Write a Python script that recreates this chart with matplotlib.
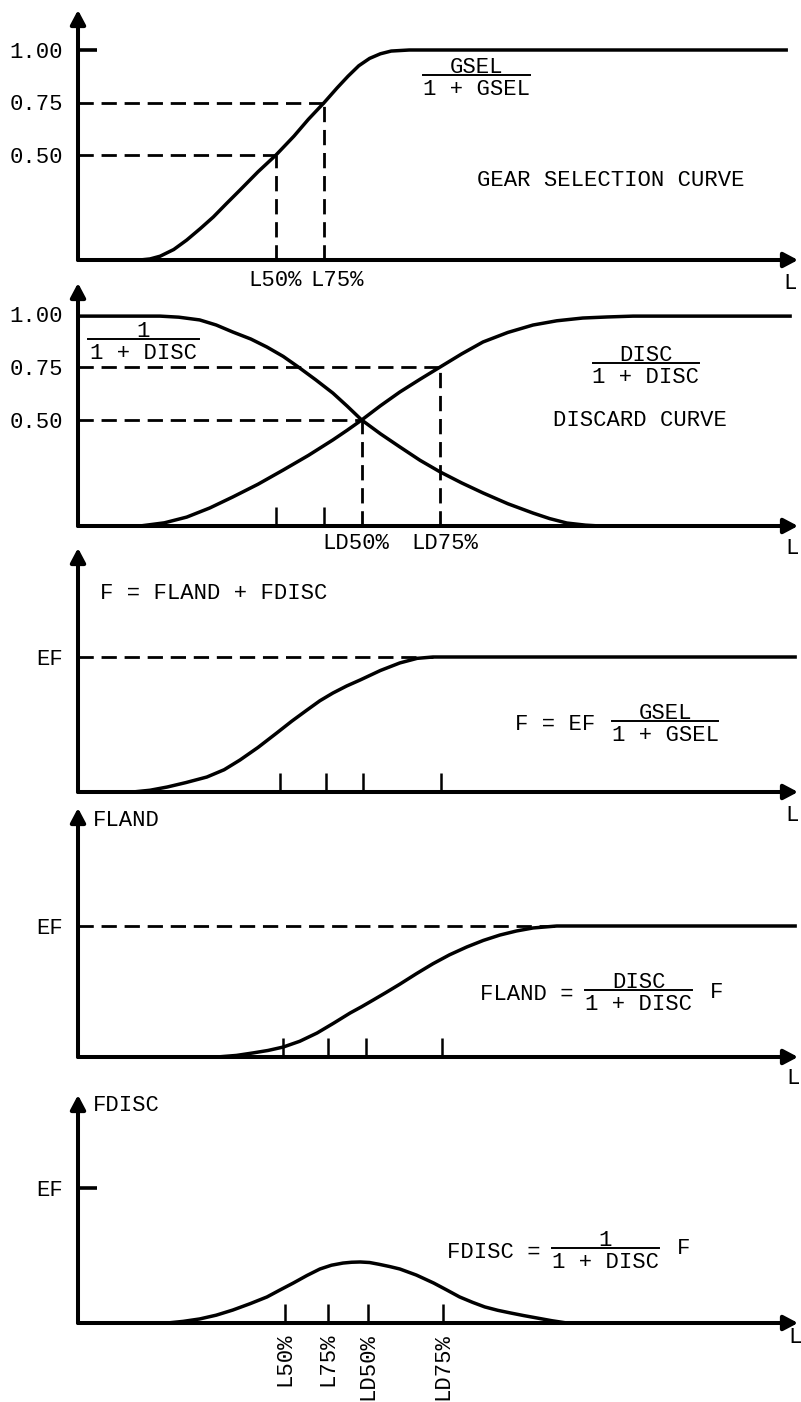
import matplotlib
matplotlib.use("Agg")
import matplotlib.pyplot as plt
from matplotlib.lines import Line2D

W, H = 801, 1402
X0, X1 = 78, 798          # y-axis position and x-arrow tip (px)

plt.rcParams.update({
    "font.family": ["Liberation Mono", "DejaVu Sans Mono"],
    "font.size": 16,
    "text.color": "black",
})

GSEL_L = [0, 8.6, 10.0, 11.4, 13.3, 15.1, 17.0, 18.8, 20.6, 22.5, 25.0, 27.5, 30.0,
          32.0, 34.2, 36.0, 37.5, 39.0, 40.5, 42.0, 43.5, 46.0, 98.6]
GSEL_Y = [0, 0, 0.005, 0.018, 0.05, 0.095, 0.15, 0.205, 0.268, 0.333, 0.42, 0.5, 0.59,
          0.67, 0.75, 0.82, 0.875, 0.925, 0.96, 0.982, 0.995, 1.0, 1.0]
L50, L75 = 27.5, 34.2

RETAIN_L = [0, 11.4, 14.0, 16.9, 19.2, 21.5, 24.0, 26.25, 28.5, 30.6, 33.0, 35.4, 37.4,
            39.4, 42.0, 44.7, 47.5, 50.3, 53.3, 56.25, 59.7, 63.2, 65.5, 67.9, 70.5, 72.5, 75.0]
RETAIN_Y = [0.99, 0.99, 0.985, 0.972, 0.948, 0.915, 0.882, 0.844, 0.80, 0.75, 0.69, 0.627,
            0.565, 0.5, 0.435, 0.373, 0.31, 0.255, 0.203, 0.156, 0.105, 0.061, 0.035,
            0.014, 0.004, 0.0, 0.0]
DISC_L = [0, 8.6, 12.0, 15.1, 18.3, 21.5, 25.0, 28.5, 32.0, 35.4, 37.4, 39.4, 42.0, 44.7,
          47.5, 50.3, 53.3, 56.25, 59.7, 63.2, 66.5, 70.1, 73.5, 77.1, 98.9]
DISC_Y = [0, 0, 0.015, 0.042, 0.085, 0.137, 0.197, 0.264, 0.333, 0.406, 0.452, 0.5, 0.567,
          0.632, 0.692, 0.75, 0.812, 0.868, 0.913, 0.948, 0.968, 0.981, 0.986, 0.99, 0.99]
LD50, LD75 = 39.4, 50.3
DISC_TICKS = [27.5, 34.2]

F_L = [0, 7.6, 10.0, 12.4, 15.0, 17.9, 20.3, 22.5, 25.0, 27.6, 29.7, 31.8, 33.6, 35.4,
       37.3, 39.2, 42.0, 44.7, 47.1, 49.3, 99.6]
F_Y = [0, 0, 0.013, 0.037, 0.07, 0.111, 0.165, 0.237, 0.33, 0.437, 0.525, 0.607, 0.676,
       0.733, 0.785, 0.83, 0.9, 0.956, 0.99, 1.0, 1.0]
F_TICKS = [28.1, 34.4, 39.6, 50.4]

FLAND_L = [0, 19.3, 22.0, 24.3, 26.4, 28.5, 30.8, 33.2, 35.5, 37.8, 39.4, 41.0, 42.8, 44.7,
           47.0, 49.3, 51.6, 54.0, 56.3, 58.6, 60.9, 63.2, 66.5, 99.6]
FLAND_Y = [0, 0, 0.012, 0.031, 0.05, 0.076, 0.12, 0.183, 0.258, 0.336, 0.384, 0.435, 0.493,
           0.556, 0.636, 0.712, 0.78, 0.84, 0.89, 0.931, 0.962, 0.985, 1.0, 1.0]
FLAND_TICKS = [28.5, 34.7, 40.0, 50.6]

FDISC_L = [0, 12.4, 14.6, 16.9, 19.2, 21.5, 23.9, 26.25, 28.0, 29.9, 31.8, 33.6, 35.2, 36.8,
           38.0, 39.2, 40.5, 41.8, 43.3, 44.7, 47.0, 49.4, 51.2, 53.0, 54.8, 56.5, 58.3,
           60.1, 61.9, 63.75, 65.8, 67.9]
FDISC_Y = [0, 0, 0.012, 0.03, 0.058, 0.096, 0.143, 0.193, 0.243, 0.296, 0.352, 0.40, 0.428,
           0.444, 0.45, 0.452, 0.448, 0.435, 0.418, 0.40, 0.355, 0.296, 0.245, 0.193, 0.153,
           0.119, 0.094, 0.074, 0.055, 0.037, 0.017, 0.0]
FDISC_TICKS = [28.75, 34.7, 40.3, 50.7]
FDISC_TICK_LABELS = ["L50%", "L75%", "LD50%", "LD75%"]

# panel frames: (arrow top px, baseline px, px per unit of y)
FRAMES = [(10, 260, 210), (283, 526, 212), (548, 792, 135), (808, 1057, 131), (1095, 1323, 135)]

CURVE_LW = 2.5
AXIS_LW = 2.9
DASH = dict(color="black", lw=2.0, linestyle=(0, (5.5, 2.8)))

fig = plt.figure(figsize=(W / 100, H / 100), dpi=100)
fig.patch.set_facecolor("white")


def px_text(x, y, s, **kw):
    kw.setdefault("va", "baseline")
    return fig.text(x / W, 1 - y / H, s, **kw)


def fraction(x0, x1, y, num, den):
    """Stacked fraction with a rule from x0 to x1 at height y (px)."""
    cx = (x0 + x1) / 2
    px_text(cx, y - 2, num, ha="center")
    px_text(cx, y + 20, den, ha="center")
    fig.add_artist(Line2D([x0 / W, x1 / W], [1 - y / H] * 2, lw=1.4, color="black"))


def make_axes(top, base, scale):
    ax = fig.add_axes([X0 / W, 1 - base / H, (X1 - X0) / W, (base - top) / H])
    ax.set_xlim(0, 100)
    ax.set_ylim(0, (base - top) / scale)
    for s in ax.spines.values():
        s.set_visible(False)
    ax.patch.set_alpha(0)
    head = "-|>,head_length=0.85,head_width=0.45"
    for xy in [(0, 1), (1, 0)]:
        ax.annotate("", xy=xy, xytext=(0, 0), xycoords="axes fraction",
                    arrowprops=dict(arrowstyle=head, lw=AXIS_LW, color="black",
                                    shrinkA=0, shrinkB=0, mutation_scale=10))
    ax.xaxis.set_ticks_position("bottom")
    ax.yaxis.set_ticks_position("left")
    ax.tick_params(axis="x", direction="in", length=14, width=1.8, labelsize=16, pad=7)
    ax.tick_params(axis="y", direction="in", length=14, width=2.6, labelsize=16, pad=11)
    return ax


axes = [make_axes(*f) for f in FRAMES]

# (1) gear selection curve
ax = axes[0]
ax.plot(GSEL_L, GSEL_Y, color="black", lw=CURVE_LW, solid_capstyle="butt")
ax.plot([0, L75], [0.75, 0.75], **DASH)
ax.plot([0, L50], [0.5, 0.5], **DASH)
ax.plot([L50, L50], [0, 0.5], **DASH)
ax.plot([L75, L75], [0, 0.75], **DASH)
ax.set_xticks([])
ax.set_yticks([1.0], labels=["1.00"])
ax.set_yticks([0.75, 0.5], labels=["0.75", "0.50"], minor=True)
ax.tick_params(axis="y", which="minor", length=0, labelsize=16, pad=11)
fraction(423, 530, 75, "GSEL", "1 + GSEL")
px_text(477, 186, "GEAR SELECTION CURVE")
px_text(275, 286, "L50%", ha="center")
px_text(337, 286, "L75%", ha="center")
px_text(790, 289, "L", ha="center")

# (2) discard curves
ax = axes[1]
ax.plot(RETAIN_L, RETAIN_Y, color="black", lw=CURVE_LW)
ax.plot(DISC_L, DISC_Y, color="black", lw=CURVE_LW)
ax.plot([0, LD75], [0.75, 0.75], **DASH)
ax.plot([0, LD50], [0.5, 0.5], **DASH)
ax.plot([LD50, LD50], [0, 0.5], **DASH)
ax.plot([LD75, LD75], [0, 0.75], **DASH)
ax.set_xticks(DISC_TICKS, labels=["", ""])
ax.set_yticks([1.0, 0.75, 0.5], labels=["1.00", "0.75", "0.50"])
ax.tick_params(axis="y", length=0)
fraction(88, 199, 339, "1", "1 + DISC")
fraction(593, 699, 363, "DISC", "1 + DISC")
px_text(553, 426, "DISCARD CURVE")
px_text(356, 549, "LD50%", ha="center")
px_text(445, 549, "LD75%", ha="center")
px_text(792, 554, "L", ha="center")

# (3) total fishing mortality
ax = axes[2]
ax.plot(F_L, F_Y, color="black", lw=CURVE_LW)
ax.plot([0, F_L[-2]], [1, 1], **DASH)
ax.set_xticks(F_TICKS, labels=[""] * len(F_TICKS))
ax.set_yticks([1.0], labels=["EF"])
ax.tick_params(axis="y", length=0)
px_text(100, 599, "F = FLAND + FDISC")
px_text(515, 730, "F = EF")
fraction(612, 718, 721, "GSEL", "1 + GSEL")
px_text(792, 821, "L", ha="center")

# (4) landed fraction
ax = axes[3]
ax.plot(FLAND_L, FLAND_Y, color="black", lw=CURVE_LW)
ax.plot([0, FLAND_L[-2]], [1, 1], **DASH)
ax.set_xticks(FLAND_TICKS, labels=[""] * len(FLAND_TICKS))
ax.set_yticks([1.0], labels=["EF"])
ax.tick_params(axis="y", length=0)
px_text(93, 826, "FLAND")
px_text(480, 1000, "FLAND =")
fraction(585, 692, 990, "DISC", "1 + DISC")
px_text(710, 998, "F")
px_text(793, 1084, "L", ha="center")

# (5) discarded fraction
ax = axes[4]
ax.plot(FDISC_L, FDISC_Y, color="black", lw=CURVE_LW)
ax.set_xticks(FDISC_TICKS, labels=FDISC_TICK_LABELS, rotation=90)
ax.set_yticks([1.0], labels=["EF"])
px_text(93, 1111, "FDISC")
px_text(447, 1258, "FDISC =")
fraction(552, 659, 1248, "1", "1 + DISC")
px_text(677, 1254, "F")
px_text(795, 1343, "L", ha="center")

fig.savefig("out.png", dpi=100, facecolor="white")
